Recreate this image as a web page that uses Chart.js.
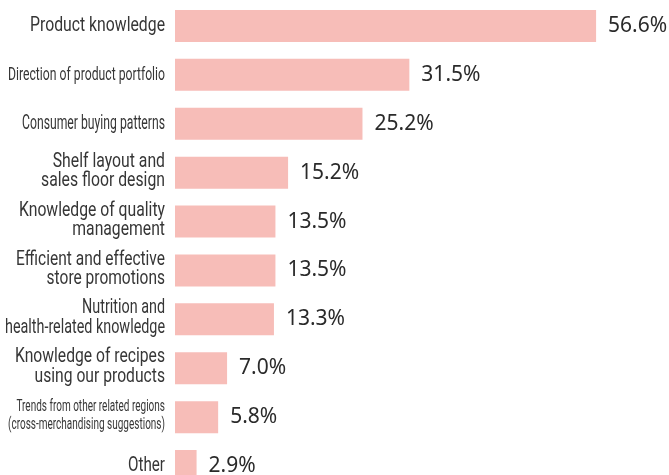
<!DOCTYPE html>
<html>
<head>
<meta charset="utf-8">
<script src="https://cdn.jsdelivr.net/npm/chart.js@4.4.1/dist/chart.umd.min.js"></script>
<style>
  html, body { margin: 0; padding: 0; background: #ffffff; overflow: hidden; }
  #wrap { position: relative; width: 669px; height: 491px; }
</style>
</head>
<body>
<div id="wrap"><canvas id="c"></canvas></div>
<script>
const categories = [
  ["Product knowledge"],
  ["Direction of product portfolio"],
  ["Consumer buying patterns"],
  ["Shelf layout and", "sales floor design"],
  ["Knowledge of quality", "management"],
  ["Efficient and effective", "store promotions"],
  ["Nutrition and", "health-related knowledge"],
  ["Knowledge of recipes", "using our products"],
  ["Trends from other related regions", "(cross-merchandising suggestions)"],
  ["Other"]
];
const values = [56.6, 31.5, 25.2, 15.2, 13.5, 13.5, 13.3, 7.0, 5.8, 2.9];
const valueLabels = values.map(v => v.toFixed(1) + "%");

// label typography (font size, condensed width of widest line)
const labelStyle = [
  { size: 19.5, width: 135 },
  { size: 19, width: 157 },
  { size: 19.5, width: 143 },
  { size: 19.5, width: 124 },
  { size: 19.5, width: 146 },
  { size: 19.5, width: 149 },
  { size: 19.5, width: 160 },
  { size: 19.5, width: 150 },
  { size: 16.5, width: 157 },
  { size: 19.5, width: 37 }
];

const labelPlugin = {
  id: 'sideLabels',
  afterDraw(chart) {
    const ctx = chart.ctx;
    const yScale = chart.scales.y;
    const xScale = chart.scales.x;
    const right = chart.chartArea.left - 10;
    ctx.save();
    ctx.textBaseline = 'middle';
    categories.forEach((lines, i) => {
      const st = labelStyle[i];
      ctx.font = st.size + 'px Roboto';
      const widest = Math.max(...lines.map(l => ctx.measureText(l).width));
      const sx = st.width / widest;
      const yc = yScale.getPixelForValue(i);
      const lh = st.size >= 19 ? 19.5 : 18;
      const y0 = yc - (lines.length - 1) * lh / 2 - (lines.length > 1 ? 1 : 0);
      lines.forEach((line, j) => {
        ctx.save();
        ctx.translate(right, y0 + j * lh);
        ctx.scale(sx, 1);
        ctx.fillStyle = '#363636';
        ctx.textAlign = 'right';
        ctx.fillText(line, 0, 0);
        ctx.restore();
      });
    });
    ctx.font = '21px "Noto Sans"';
    ctx.fillStyle = '#2a2a2a';
    ctx.textAlign = 'left';
    values.forEach((v, i) => {
      const x = xScale.getPixelForValue(v) + 12;
      const y = yScale.getPixelForValue(i);
      ctx.fillText(valueLabels[i], x, y);
    });
    ctx.restore();
  }
};

new Chart(document.getElementById('c'), {
  type: 'bar',
  data: {
    labels: categories,
    datasets: [{
      data: values,
      backgroundColor: '#f7bdb8',
      borderWidth: 0,
      barPercentage: 0.654,
      categoryPercentage: 1.0
    }]
  },
  options: {
    indexAxis: 'y',
    responsive: true,
    maintainAspectRatio: false,
    animation: false,
    layout: { padding: { top: 1.5, bottom: 0.5, left: 0, right: 0 } },
    plugins: { legend: { display: false }, tooltip: { enabled: false } },
    scales: {
      x: { display: false, min: 0, max: 66.4, grid: { display: false } },
      y: {
        display: true,
        grid: { display: false, drawTicks: false },
        border: { display: false },
        ticks: { display: false },
        afterFit(scale) { scale.width = 175; }
      }
    }
  },
  plugins: [labelPlugin]
});
</script>
</body>
</html>
